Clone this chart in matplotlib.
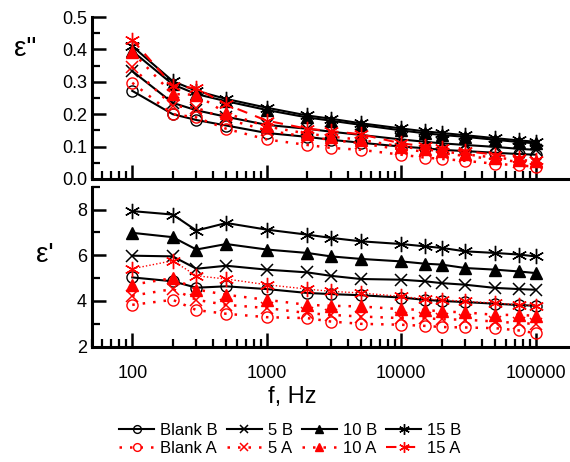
import numpy as np
import matplotlib
matplotlib.use('Agg')
import matplotlib.pyplot as plt
from matplotlib.ticker import FixedLocator, NullFormatter, MultipleLocator

plt.rcParams['font.family'] = ['Liberation Sans', 'DejaVu Sans']

freq = [100, 200, 300, 500, 1000, 2000, 3000, 5000, 10000, 15000, 20000, 30000, 50000, 75000, 100000]

# epsilon'' (loss)
loss_blank_b = [0.272, 0.20, 0.182, 0.165, 0.142, 0.130, 0.121, 0.112, 0.100, 0.095, 0.090, 0.086, 0.081, 0.077, 0.075]
loss_5_b = [0.333, 0.235, 0.212, 0.192, 0.167, 0.155, 0.146, 0.136, 0.122, 0.115, 0.110, 0.105, 0.099, 0.093, 0.090]
loss_10_b = [0.395, 0.292, 0.262, 0.240, 0.213, 0.190, 0.180, 0.167, 0.150, 0.141, 0.136, 0.130, 0.121, 0.114, 0.110]
loss_15_b = [0.410, 0.302, 0.272, 0.247, 0.220, 0.196, 0.186, 0.172, 0.156, 0.147, 0.142, 0.135, 0.126, 0.119, 0.115]
loss_blank_a = [0.297, 0.200, 0.190, 0.155, 0.122, 0.105, 0.096, 0.090, 0.075, 0.066, 0.062, 0.056, 0.047, 0.042, 0.038]
loss_5_a = [0.345, 0.225, 0.220, 0.185, 0.150, 0.130, 0.121, 0.110, 0.091, 0.085, 0.080, 0.071, 0.061, 0.053, 0.050]
loss_10_a = [0.392, 0.262, 0.260, 0.203, 0.162, 0.140, 0.131, 0.121, 0.100, 0.091, 0.086, 0.076, 0.066, 0.059, 0.055]
loss_15_a = [0.430, 0.288, 0.280, 0.230, 0.180, 0.155, 0.148, 0.138, 0.110, 0.101, 0.095, 0.086, 0.075, 0.066, 0.060]

# epsilon' (permittivity)
perm_blank_b = [5.03, 4.86, 4.58, 4.64, 4.52, 4.35, 4.30, 4.25, 4.15, 4.05, 4.00, 3.95, 3.88, 3.82, 3.79]
perm_5_b = [5.98, 5.95, 5.41, 5.54, 5.37, 5.25, 5.10, 4.96, 4.93, 4.86, 4.78, 4.71, 4.57, 4.52, 4.49]
perm_10_b = [6.98, 6.79, 6.25, 6.49, 6.25, 6.10, 5.95, 5.84, 5.73, 5.63, 5.59, 5.44, 5.37, 5.29, 5.22]
perm_15_b = [7.93, 7.78, 7.08, 7.41, 7.12, 6.90, 6.76, 6.61, 6.49, 6.39, 6.32, 6.17, 6.10, 6.03, 5.95]
perm_blank_a = [3.83, 4.05, 3.60, 3.44, 3.29, 3.25, 3.10, 3.00, 2.96, 2.91, 2.86, 2.84, 2.81, 2.71, 2.59]
perm_5_a = [4.23, 4.52, 4.05, 3.83, 3.69, 3.47, 3.39, 3.32, 3.25, 3.25, 3.20, 3.18, 3.10, 3.03, 3.00]
perm_10_a = [4.71, 5.00, 4.50, 4.27, 4.05, 3.83, 3.79, 3.76, 3.64, 3.61, 3.54, 3.50, 3.39, 3.39, 3.35]
perm_15_a = [5.41, 5.76, 5.10, 4.96, 4.71, 4.52, 4.42, 4.35, 4.20, 4.08, 4.05, 3.98, 3.91, 3.83, 3.79]

labels = ['Blank B', '5 B', '10 B', '15 B', 'Blank A', '5 A', '10 A', '15 A']
ast = (6, 2, 0)
black_style = [
    dict(marker='o', mfc='none', ms=8),
    dict(marker='x', ms=9, mew=1.1),
    dict(marker='^', ms=9),
    dict(marker=ast, ms=11, mew=1.0),
]
red_style = [
    dict(marker='o', mfc='none', ms=8, ls=(0, (1, 3.2)), lw=1.8),
    dict(marker='x', ms=9, mew=1.1, ls=(0, (1, 3.2)), lw=1.8),
    dict(marker='^', ms=9, ls=(0, (1, 3.2)), lw=1.8),
    dict(marker=ast, ms=11, mew=1.0, ls=(0, (5, 4)), lw=1.5),
]

fig = plt.figure(figsize=(5.7, 4.62), dpi=100)
ax1 = fig.add_axes([0.161, 0.6126, 0.839, 0.3506])
ax2 = fig.add_axes([0.161, 0.2496, 0.839, 0.3464])

handles = {}
loss_b = [loss_blank_b, loss_5_b, loss_10_b, loss_15_b]
loss_a = [loss_blank_a, loss_5_a, loss_10_a, loss_15_a]
perm_b = [perm_blank_b, perm_5_b, perm_10_b, perm_15_b]
perm_a = [perm_blank_a, perm_5_a, perm_10_a, perm_15_a]

for i in range(4):
    h, = ax1.plot(freq, loss_b[i], color='black', lw=1.5, **black_style[i])
    handles[labels[i]] = h
    ax2.plot(freq, perm_b[i], color='black', lw=1.5, **black_style[i])
for i in range(4):
    h, = ax1.plot(freq, loss_a[i], color='red', mec='red', **red_style[i])
    handles[labels[i + 4]] = h
    st = dict(red_style[i])
    if i == 3:
        st['ls'] = (0, (1, 1.5))
        st['lw'] = 1.0
    ax2.plot(freq, perm_a[i], color='red', mec='red', **st)

for ax in (ax1, ax2):
    ax.set_xscale('log')
    ax.set_xlim(50, 1.8e5)
    for s in ('top', 'right'):
        ax.spines[s].set_visible(False)
    for s in ('left', 'bottom'):
        ax.spines[s].set_linewidth(2.2)
    ax.tick_params(which='major', direction='in', length=10, width=1.8, labelsize=13)
    ax.tick_params(which='minor', direction='in', length=6, width=1.6)
    ax.tick_params(axis='x', which='major', pad=13)

ax1.set_ylim(0, 0.5)
ax1.yaxis.set_major_locator(MultipleLocator(0.1))
ax1.yaxis.set_minor_locator(MultipleLocator(0.05))
ax1.yaxis.set_major_formatter(plt.FuncFormatter(lambda v, p: f'{v:.1f}'))
ax1.tick_params(axis='x', which='both', labelbottom=False)

ax2.set_ylim(2, 9)
ax2.yaxis.set_major_locator(FixedLocator([2, 4, 6, 8]))
ax2.yaxis.set_minor_locator(FixedLocator([3, 5, 7, 9]))
ax2.xaxis.set_major_formatter(plt.FuncFormatter(lambda v, p: f'{int(v)}'))
ax2.xaxis.set_minor_formatter(NullFormatter())
ax2.set_xlabel('f, Hz', fontsize=17)
ax2.xaxis.set_label_coords(0.42, -0.245)

fig.text(0.045, 0.895, 'ε"', fontsize=20, ha='center', va='center')
fig.text(0.078, 0.447, "ε'", fontsize=20, ha='center', va='center')

order = ['Blank B', 'Blank A', '5 B', '5 A', '10 B', '10 A', '15 B', '15 A']
fig.legend([handles[k] for k in order], order, ncol=4, loc='center',
           bbox_to_anchor=(0.509, 0.049), frameon=False, fontsize=12,
           handlelength=2.1, handletextpad=0.35, columnspacing=0.55,
           labelspacing=0.2, markerscale=0.7)

fig.savefig('out.png', dpi=100)
